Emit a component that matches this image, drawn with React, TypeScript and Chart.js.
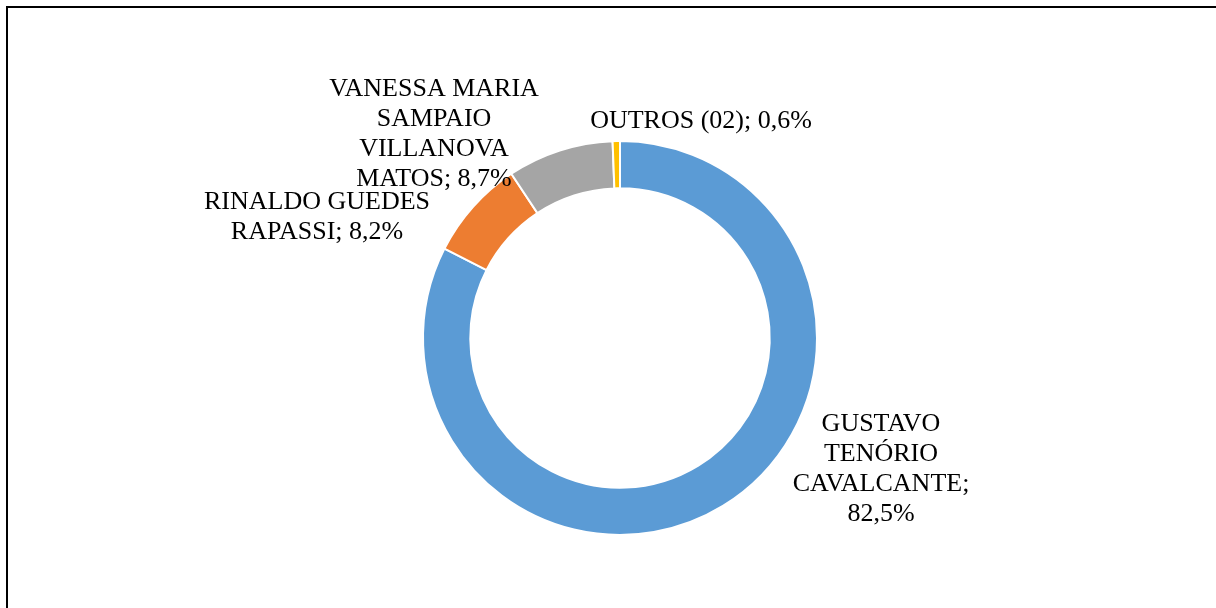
import React, { useEffect, useRef } from "react";
import { Chart, registerables } from "chart.js";

Chart.register(...registerables);

const categories = [
  "GUSTAVO TENÓRIO CAVALCANTE",
  "RINALDO GUEDES RAPASSI",
  "VANESSA MARIA SAMPAIO VILLANOVA MATOS",
  "OUTROS (02)",
];
const values = [82.5, 8.2, 8.7, 0.6];
const valueLabels = ["82,5%", "8,2%", "8,7%", "0,6%"];
const colors = ["#5B9BD5", "#ED7D31", "#A5A5A5", "#FFC000"];
// label text lines (as shown in the picture)
const labelLines = [
  ["GUSTAVO", "TENÓRIO", "CAVALCANTE;", "82,5%"],
  ["RINALDO GUEDES", "RAPASSI; 8,2%"],
  ["VANESSA MARIA", "SAMPAIO", "VILLANOVA", "MATOS; 8,7%"],
  ["OUTROS (02); 0,6%"],
];
// label centre offsets relative to doughnut centre
const labelOffsets = [
  [261, 131],
  [-303, -121],
  [-186, -204],
  [81, -217],
];

const labelPlugin = {
  id: "labelPlugin",
  beforeDraw(chart: any) {
    const ctx = chart.ctx;
    ctx.save();
    ctx.fillStyle = "#ffffff";
    ctx.fillRect(0, 0, chart.width, chart.height);
    ctx.fillStyle = "#000000";
    ctx.fillRect(6, 6, chart.width - 6, 2);
    ctx.fillRect(6, 6, 2, chart.height - 6);
    ctx.restore();
  },
  afterDraw(chart: any) {
    const ctx = chart.ctx;
    const meta = chart.getDatasetMeta(0);
    const arc = meta.data[0];
    const cx = arc.x;
    const cy = arc.y;
    ctx.save();
    ctx.font = '26px "Liberation Serif", "Times New Roman", serif';
    ctx.fillStyle = "#000000";
    ctx.textAlign = "center";
    ctx.textBaseline = "middle";
    const lh = 30;
    labelLines.forEach((lines, i) => {
      const [dx, dy] = labelOffsets[i];
      const startY = cy + dy - ((lines.length - 1) * lh) / 2;
      lines.forEach((line, j) => {
        ctx.fillText(line, cx + dx, startY + j * lh);
      });
    });
    ctx.restore();
  },
};

export default function App() {
  const ref = useRef<HTMLCanvasElement | null>(null);
  useEffect(() => {
    if (!ref.current) return;
    const chart = new Chart(ref.current, {
      type: "doughnut",
      data: {
        labels: categories,
        datasets: [
          {
            data: values,
            backgroundColor: colors,
            borderColor: "#ffffff",
            borderWidth: 2,
            hoverBorderWidth: 2,
          },
        ],
      },
      options: {
        animation: false,
        responsive: false,
        cutout: "76%",
        layout: { padding: { top: 140, bottom: 72, left: 24, right: 0 } },
        plugins: {
          legend: { display: false },
          tooltip: { enabled: false },
        },
      },
      plugins: [labelPlugin],
    });
    return () => chart.destroy();
  }, []);
  return (
    <div style={{ position: "fixed", left: 0, top: 0, width: 1216, height: 608, background: "#fff" }}>
      <canvas ref={ref} width={1216} height={608} style={{ display: "block" }} />
    </div>
  );
}
